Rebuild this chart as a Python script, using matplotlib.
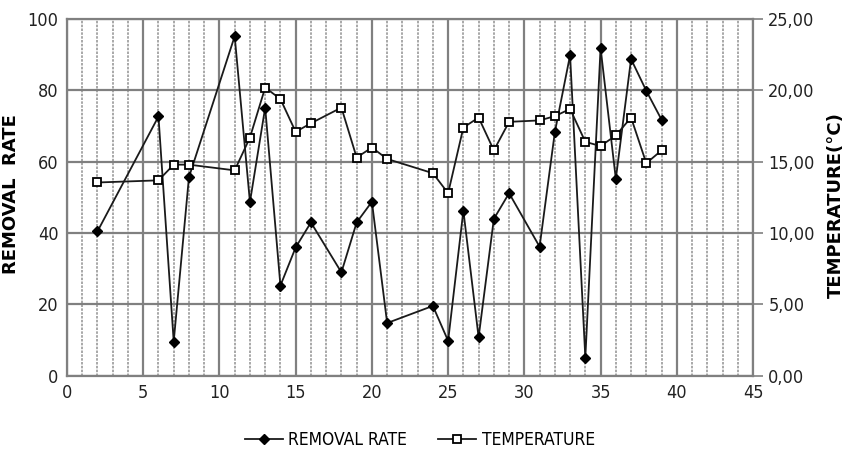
import matplotlib
matplotlib.use("Agg")
import matplotlib.pyplot as plt
from matplotlib.ticker import MultipleLocator, FuncFormatter

x_removal = [2, 6, 7, 8, 11, 12, 13, 14, 15, 16, 18, 19, 20, 21, 24, 25, 26, 27, 28, 29, 31, 32, 33, 34, 35, 36, 37, 38, 39]
removal_rate = [40.5, 72.7, 9.6, 55.7, 95.2, 48.7, 75.2, 25.3, 36.0, 43.0, 29.0, 43.0, 48.8, 14.8, 19.6, 9.8, 46.3, 10.8, 44.0, 51.2, 36.2, 68.3, 89.9, 5.1, 91.9, 55.2, 88.8, 79.9, 71.8]
x_temp = [2, 6, 7, 8, 11, 12, 13, 14, 15, 16, 18, 19, 20, 21, 24, 25, 26, 27, 28, 29, 31, 32, 33, 34, 35, 36, 37, 38, 39]
temperature = [13.55, 13.7, 14.8, 14.8, 14.4, 16.7, 20.2, 19.4, 17.1, 17.7, 18.8, 15.3, 16.0, 15.2, 14.2, 12.8, 17.4, 18.1, 15.8, 17.8, 17.9, 18.2, 18.7, 16.4, 16.1, 16.85, 18.1, 14.9, 15.8]

plt.rcParams['font.family'] = ['DejaVu Sans']

fig = plt.figure(figsize=(8.48, 4.55), dpi=100)
ax = fig.add_axes([0.079, 0.174, 0.809, 0.784])
ax2 = ax.twinx()

ax.set_xlim(0, 45)
ax.set_ylim(0, 100)
ax2.set_ylim(0, 25)

ax.xaxis.set_major_locator(MultipleLocator(5))
ax.xaxis.set_minor_locator(MultipleLocator(1))
ax.yaxis.set_major_locator(MultipleLocator(20))
ax2.yaxis.set_major_locator(MultipleLocator(5))
ax2.yaxis.set_major_formatter(FuncFormatter(lambda v, p: f"{v:.2f}".replace('.', ',')))

ax.grid(True, which='major', axis='both', color='#808080', linewidth=1.6)
ax.grid(True, which='minor', axis='x', color='#9a9a9a', linewidth=1.2, linestyle=(0, (1.5, 0.8)))
ax.set_axisbelow(True)

for s in ['left', 'top', 'bottom']:
    ax.spines[s].set_color('#808080')
    ax.spines[s].set_linewidth(1.6)
for s in ['left', 'top', 'bottom']:
    ax2.spines[s].set_visible(False)
ax2.spines['right'].set_color('#808080')
ax2.spines['right'].set_linewidth(1.6)
ax.spines['right'].set_visible(False)

ax.tick_params(axis='both', which='both', length=0, labelsize=13, pad=6)
ax2.tick_params(axis='y', which='major', length=7, color='#808080', width=1.2, labelsize=13, pad=4)
for lbl in ax.get_xticklabels() + ax.get_yticklabels() + ax2.get_yticklabels():
    lbl.set_fontstretch('condensed')
    lbl.set_color('#222222')

l1, = ax.plot(x_removal, removal_rate, color='#1a1a1a', linewidth=1.3, marker='D',
              markersize=5.5, markerfacecolor='black', markeredgecolor='black', label='REMOVAL RATE', zorder=3)
l2, = ax2.plot(x_temp, temperature, color='#1a1a1a', linewidth=1.3, marker='s',
               markersize=5.5, markerfacecolor='white', markeredgecolor='black', markeredgewidth=1.3,
               label='TEMPERATURE', zorder=3)

ax.set_ylabel('REMOVAL  RATE', fontsize=13, fontweight='bold')
ax.yaxis.set_label_coords(-0.068, 0.51)
ax2.set_ylabel('TEMPERATURE(°C)', fontsize=13, fontweight='bold')
ax2.yaxis.set_label_coords(1.108, 0.48)

leg = fig.legend(handles=[l1, l2], loc='center', bbox_to_anchor=(0.495, 0.033), ncol=2,
                 frameon=False, fontsize=12.5, handlelength=2.2, columnspacing=1.8, handletextpad=0.3)
for t in leg.get_texts():
    t.set_fontstretch('condensed')

fig.savefig('out.png', dpi=100)
